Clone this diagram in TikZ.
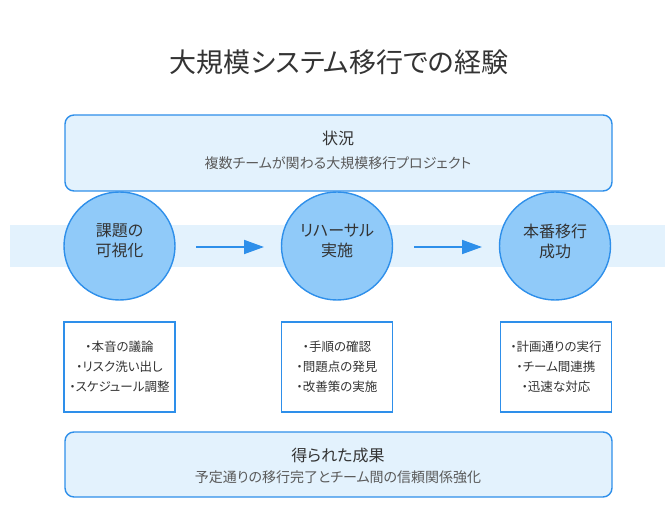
\documentclass[tikz,border=0pt]{standalone}
\usepackage{fontspec}
\setmainfont[RawFeature=+palt]{Noto Sans CJK JP}
\usetikzlibrary{shapes.geometric,arrows.meta}
\definecolor{lightbg}{HTML}{E3F2FD}
\definecolor{edge}{HTML}{2E8FEA}
\definecolor{circfill}{HTML}{90CAF9}
\definecolor{darktext}{HTML}{333333}
\definecolor{graytext}{HTML}{5A5A5A}
\tikzset{
  panel/.style={draw=edge, line width=1.4pt, fill=lightbg, rounded corners=9pt},
  stage/.style={ellipse, draw=edge, line width=1.4pt, fill=circfill, minimum width=111pt, minimum height=108pt},
  stagetxt/.style={align=center, font=\fontsize{16}{20}\selectfont, text=darktext},
  listbox/.style={draw=edge, line width=1.4pt, fill=white, minimum width=111pt, minimum height=90pt, align=center, font=\fontsize{12.5}{20}\selectfont, text=darktext},
  flow/.style={draw=edge, line width=1.8pt, -{Triangle[length=20pt,width=14pt]}},
  headtxt/.style={font=\fontsize{16}{19}\selectfont, text=darktext},
  subtxt/.style={font=\fontsize{14}{17}\selectfont, text=graytext}
}
\begin{document}
\begin{tikzpicture}[x=1pt,y=-1pt]
\useasboundingbox (0,0) rectangle (665,532);
\node[font=\fontsize{27}{32}\selectfont, text=darktext] (title) at (339,62) {大規模システム移行での経験};
\fill[lightbg] (10,225) rectangle (665,267);
\draw[panel] (65,115) rectangle (612,191);
\node[headtxt] (sh) at (338,138) {状況};
\node[subtxt] (ss) at (338,163) {複数チームが関わる大規模移行プロジェクト};
\node[stage] (c1) at (119.5,246) {};
\node[stage] (c2) at (337,246) {};
\node[stage] (c3) at (555,246) {};
\node[stagetxt] (t1) at ([yshift=5pt]c1.center) {課題の\\可視化};
\node[stagetxt] (t2) at ([yshift=5pt]c2.center) {リハーサル\\実施};
\node[stagetxt] (t3) at ([yshift=5pt]c3.center) {本番移行\\成功};
\coordinate (a1s) at (196,247); \coordinate (a1e) at (264,247);
\coordinate (a2s) at (414,247); \coordinate (a2e) at (482,247);
\draw[flow] (a1s) -- (a1e);
\draw[flow] (a2s) -- (a2e);
\node[listbox] (l1) at (119.5,367) {・本音の議論\\・リスク洗い出し\\・スケジュール調整};
\node[listbox] (l2) at (337,367) {・手順の確認\\・問題点の発見\\・改善策の実施};
\node[listbox] (l3) at (556,367) {・計画通りの実行\\・チーム間連携\\・迅速な対応};
\draw[panel] (65,432) rectangle (612,497);
\node[headtxt] (rh) at (338,455) {得られた成果};
\node[subtxt] (rs) at (338,477) {予定通りの移行完了とチーム間の信頼関係強化};
\end{tikzpicture}
\end{document}
